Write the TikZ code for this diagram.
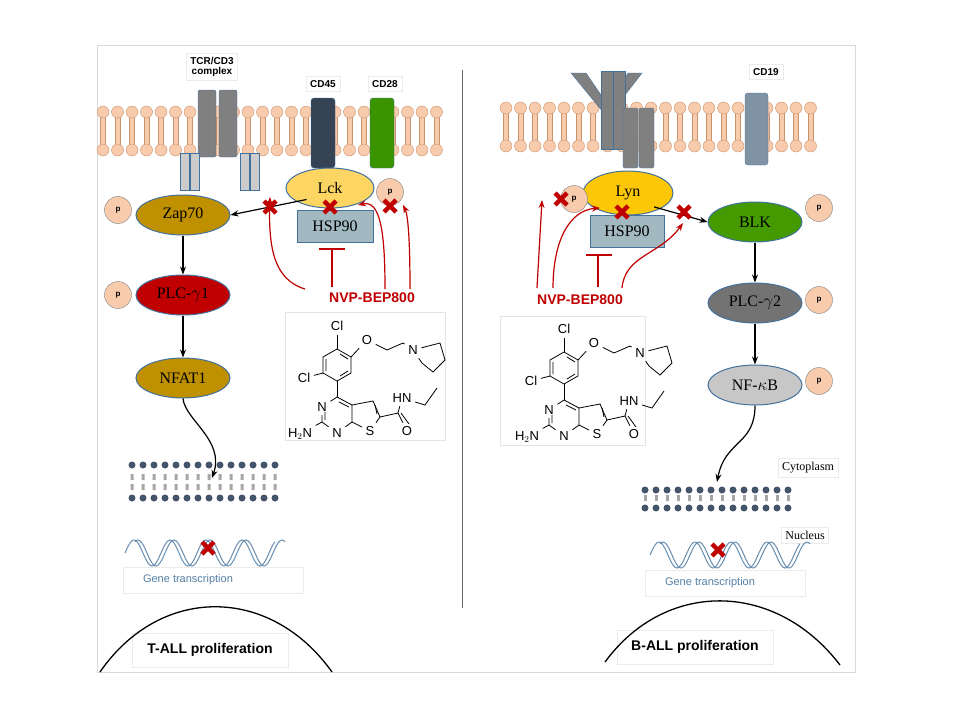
\documentclass[tikz,border=0pt]{standalone}
\usepackage{fontspec}
\setmainfont{Liberation Serif}
\newfontfamily\sans{Liberation Sans}
\usetikzlibrary{arrows.meta,positioning,shapes.geometric}
\definecolor{lipid}{HTML}{F8CBAD}
\definecolor{lipidline}{HTML}{C9936E}
\definecolor{darkred}{HTML}{C00000}
\definecolor{gold}{HTML}{BF9000}
\definecolor{slate}{HTML}{44546A}
\definecolor{border}{HTML}{41719C}
\newcommand{\fs}[1]{\fontsize{#1}{#1}\selectfont}
\tikzset{
  prot/.style={shape=ellipse,draw=border,line width=1pt,minimum width=94pt,minimum height=40pt,font=\fs{16}},
  phos/.style={shape=circle,draw=gray,fill=lipid,minimum size=27pt,inner sep=0pt,font=\sans\fs{8}\bfseries},
  lbl/.style={draw=black!8,fill=white,font=\sans\fs{11}\bfseries,inner sep=4pt},
  blk/.style={-{Stealth[length=8pt]},line width=1.2pt},
  drug/.style={-{Stealth[length=8pt]},draw=darkred,line width=1.2pt},
  cross/.pic={\draw[darkred,line width=4.5pt] (-6,-6) -- (6,6) (-6,6) -- (6,-6);},
  mol/.pic={
    \begin{scope}[line width=0.8pt,font=\sans\fs{13}]
    \draw (337,349) -- (351,357) -- (351,373) -- (337,381) -- (323,373) -- (323,357) -- cycle;
    \draw (340,354) -- (348,359) (348,371) -- (340,376) (326,371) -- (326,359);
    \node (cl1) at (337,326) {Cl};
    \draw (337,349) -- (cl1);
    \node (cl2) at (304,378) {Cl};
    \draw (323,373) -- (cl2);
    \node (o1) at (367,340) {O};
    \draw (351,357) -- (o1) -- (387,350) -- (403,343);
    \node (n1) at (413,350) {N};
    \draw (403,343) -- (n1) -- (440,343) -- (445,360) -- (433,372) -- (422,363) -- (n1);
    \draw (337,381) -- (337,397);
    \node (n3) at (322,407) {N};
    \node (n4) at (337,433) {N};
    \node (nh) at (300,434) {H$_2$N};
    \node (s1) at (370,431) {S};
    \draw (337,397) -- (n3) -- (322,422) -- (n4) -- (352,422) -- (352,405) -- (337,397);
    \draw (339,402) -- (349,407) (325,412) -- (325,420);
    \draw (322,422) -- (nh);
    \draw (352,405) -- (373,401) -- (380,417) -- (s1) -- (352,422);
    \draw (375,405) -- (377,414);
    \draw (380,417) -- (398,413);
    \node (o2) at (407,431) {O};
    \draw (398,413) -- (o2) (401,413) -- (409,424);
    \node (hn) at (402,398) {HN};
    \draw (398,413) -- (hn) (hn) -- (425,405) -- (437,388);
    \end{scope}}
}
\begin{document}
\begin{tikzpicture}[x=1pt,y=-1pt]
  \useasboundingbox (0,0) rectangle (960,720);
  \fill[white] (0,0) rectangle (960,720);
  % frame and divider
  \draw[black!15] (97,45) rectangle (855,672);
  \draw[black!60] (462,70) -- (462,608);

  % left membrane
  \foreach \x in {103,117.5,...,450} {
    \draw[lipidline,fill=lipid] (\x-2.5,112) rectangle (\x+2.5,150);
    \draw[lipidline,fill=lipid] (\x,112) circle (6) (\x,150) circle (6);
  }
  % right membrane
  \foreach \x in {506,520.5,...,815} {
    \draw[lipidline,fill=lipid] (\x-2.5,108) rectangle (\x+2.5,146);
    \draw[lipidline,fill=lipid] (\x,108) circle (6) (\x,146) circle (6);
  }

  % T cell receptors
  \draw[border,fill=gray,rounded corners=2pt] (198,90) rectangle (216,157) (219,90) rectangle (237,157);
  \draw[border,fill=black!20] (180,153) rectangle (189,190) (190,153) rectangle (199,190)
                              (240,153) rectangle (249,190) (250,153) rectangle (259,190);
  \draw[border,fill=slate!80!black,rounded corners=3pt] (311,98) rectangle (335,168);
  \draw[border,fill=green!40!black!70!lime,rounded corners=3pt] (370,98) rectangle (394,168);
  \node[lbl,align=center,font=\sans\fs{10}\bfseries] (tcr) at (212,67) {TCR/CD3\\complex};
  \node[lbl,font=\sans\fs{10}\bfseries] (cd45) at (323,84) {CD45};
  \node[lbl,font=\sans\fs{10}\bfseries] (cd28) at (385,84) {CD28};

  % B cell receptors
  \draw[border,fill=gray] (571,73) -- (586,73) -- (603,98) -- (603,112) -- cycle;
  \draw[border,fill=gray] (642,73) -- (628,73) -- (612,98) -- (612,112) -- cycle;
  \draw[border,fill=gray] (601,71) rectangle (613,149) (613,71) rectangle (625,149);
  \draw[border,fill=gray,rounded corners=2pt] (623,108) rectangle (638,168) (639,108) rectangle (654,168);
  \draw[border,fill=border!50!gray!80,rounded corners=3pt] (745,93) rectangle (768,165);
  \node[lbl,font=\sans\fs{10}\bfseries] (cd19) at (766,72) {CD19};

  % left pathway
  \node[draw=border,fill=blue!30!cyan!20!gray!60,minimum width=76pt,minimum height=32pt,font=\fs{16}] (hspl) at (335,226) {HSP90};
  \node[prot,fill=yellow!50!orange!60,minimum width=88pt] (lck) at (330,188) {Lck};
  \node[phos] (plck) at (390,192) {p};
  \node[prot,fill=gold] (zap) at (183,215) {Zap70};
  \node[phos] (pzap) at (118,210) {p};
  \node[prot,fill=darkred] (plc1) at (183,295) {PLC-$\gamma$1};
  \node[phos] (pplc1) at (118,295) {p};
  \node[prot,fill=gold] (nfat) at (183,378) {NFAT1};
  \draw[blk] (lck.south west) ++(8,-3) coordinate (l1) -- (zap.east);
  \draw[blk] (zap) -- (plc1);
  \draw[blk] (plc1) -- (nfat);
  \coordinate (memL) at (212,478);
  \draw[blk] (nfat.south) .. controls (185,420) and (225,440) .. (memL);

  \node[font=\sans\fs{14}\bfseries,text=darkred] (nvpl) at (372,298) {NVP-BEP800};
  \coordinate (xl1) at (270,207);
  \coordinate (xl2) at (330,207);
  \coordinate (xl3) at (390,206);
  \draw[drug] (305,289) .. controls (275,280) and (268,250) .. ([yshift=10]xl1);
  \draw[darkred,line width=1.5pt] (332,287) -- (332,250) (319,249) -- (345,249);
  \draw[drug] (385,289) .. controls (385,230) and (380,200) .. (358,205);
  \draw[drug] (410,289) .. controls (410,240) and (408,215) .. (403,205);
  \pic at (xl1) {cross};
  \pic at (xl2) {cross};
  \pic at (xl3) {cross};
  \draw[draw=black!10] (285,312) rectangle (445,440);
  \pic {mol};

  % right pathway
  \node[draw=border,fill=blue!30!cyan!20!gray!60,minimum width=74pt,minimum height=32pt,font=\fs{16}] (hspr) at (627,231) {HSP90};
  \node[prot,fill=yellow!60!orange,minimum width=90pt,minimum height=44pt] (lyn) at (628,193) {Lyn};
  \node[phos] (plyn) at (574,199) {p};
  \node[prot,fill=green!45!black!60!lime!90!black] (blk) at (755,222) {BLK};
  \node[phos] (pblk) at (819,208) {p};
  \node[prot,fill=black!55] (plc2) at (755,303) {PLC-$\gamma$2};
  \node[phos] (pplc2) at (819,300) {p};
  \node[prot,fill=black!22] (nfkb) at (755,385) {NF-$\kappa$B};
  \node[phos] (pnfkb) at (819,381) {p};
  \draw[blk] (lyn.south east) ++(-6,-2) -- (blk.west);
  \draw[blk] (blk) -- (plc2);
  \draw[blk] (plc2) -- (nfkb);
  \coordinate (memR) at (717,482);
  \draw[blk] (nfkb.south) .. controls (755,445) and (725,440) .. (memR);

  \node[font=\sans\fs{14}\bfseries,text=darkred] (nvpr) at (580,300) {NVP-BEP800};
  \coordinate (xr1) at (561,199);
  \coordinate (xr2) at (622,212);
  \coordinate (xr3) at (684,212);
  \draw[drug] (537,288) -- (542,200);
  \draw[drug] (553,288) .. controls (553,240) and (570,210) .. (600,208);
  \draw[darkred,line width=1.5pt] (598,287) -- (598,256) (586,255) -- (612,255);
  \draw[drug] (622,288) .. controls (625,255) and (660,255) .. (683,223);
  \pic at (xr1) {cross};
  \pic at (xr2) {cross};
  \pic at (xr3) {cross};
  \draw[draw=black!10] (500,316) rectangle (645,445);
  \pic[shift={(227,3)}] {mol};

  % nuclear membranes
  \foreach \x in {132,143,...,285} {
    \fill[slate] (\x,465) circle (3.5) (\x,498) circle (3.5);
    \fill[black!35] (\x-1.5,474) rectangle (\x+1.5,480) (\x-1.5,484) rectangle (\x+1.5,490);
  }
  \foreach \x in {645,656,...,795} {
    \fill[slate] (\x,490) circle (3.5) (\x,508) circle (3.5);
    \fill[black!35] (\x-1.5,495) rectangle (\x+1.5,501);
  }
  \node[lbl,font=\fs{12}] (cyto) at (808,468) {Cytoplasm};
  \node[lbl,font=\fs{12}] (nucl) at (805,535) {Nucleus};

  % DNA
  \draw[border!80,line width=1pt] plot[domain=0:150,samples=90] ({125+\x},{553-13*sin(\x*10)});
  \draw[border!80,line width=1pt] plot[domain=0:150,samples=90] ({135+\x},{553-13*sin(\x*10+60)});
  \draw[border!80,line width=1pt] plot[domain=0:150,samples=90] ({650+\x},{555-13*sin(\x*10)});
  \draw[border!80,line width=1pt] plot[domain=0:150,samples=90] ({660+\x},{555-13*sin(\x*10+60)});
  \pic at (208,548) {cross};
  \pic at (718,550) {cross};
  \node[lbl,font=\sans\fs{11},text=border!90,minimum width=180pt,minimum height=26pt,draw=black!8] (genel) at (213,580) {\hspace*{-50pt}Gene transcription};
  \node[lbl,font=\sans\fs{11},text=border!90,minimum width=160pt,minimum height=26pt,draw=black!8] (gener) at (725,583) {\hspace*{-30pt}Gene transcription};

  % proliferation curves
  \node[lbl,font=\sans\fs{14}\bfseries,minimum width=156pt,minimum height=34pt] (tall) at (210,650) {T-ALL proliferation};
  \node[lbl,font=\sans\fs{14}\bfseries,minimum width=156pt,minimum height=34pt] (ball) at (695,647) {B-ALL proliferation};
  \draw[line width=1.3pt] (100,672) .. controls (160,585) and (270,585) .. (332,672);
  \draw[line width=1.3pt] (605,662) .. controls (665,580) and (775,580) .. (840,665);
\end{tikzpicture}
\end{document}
